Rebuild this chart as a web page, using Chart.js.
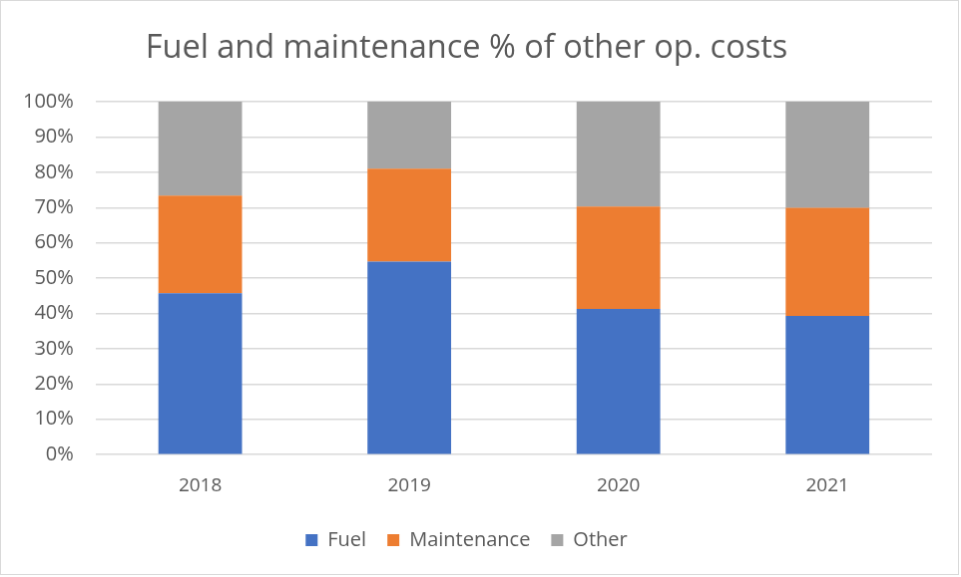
<!DOCTYPE html>
<html>
<head>
<meta charset="utf-8">
<script src="https://cdn.jsdelivr.net/npm/chart.js@4/dist/chart.umd.min.js"></script>
<style>
  body { margin: 0; background: #fff; }
  canvas { display: block; border: 1px solid #d9d9d9; }
</style>
</head>
<body>
<canvas id="chart" width="959" height="575"></canvas>
<script>
const years = ['2018', '2019', '2020', '2021'];
const fuel = [45.7, 54.7, 41.3, 39.3];
const maintenance = [27.7, 26.3, 29.0, 30.6];
const other = [26.6, 19.0, 29.7, 30.1];

const textColor = '#595959';
const fontFamily = '"Open Sans", "Liberation Sans", sans-serif';

const ctx = document.getElementById('chart').getContext('2d');

new Chart(ctx, {
    type: 'bar',
    data: {
        labels: years,
        datasets: [
            { label: 'Fuel', data: fuel, backgroundColor: '#4472c4' },
            { label: 'Maintenance', data: maintenance, backgroundColor: '#ed7d31' },
            { label: 'Other', data: other, backgroundColor: '#a5a5a5' }
        ]
    },
    options: {
        responsive: false,
        animation: false,
        barPercentage: 0.4,
        categoryPercentage: 1,
        layout: { padding: { left: 0, right: 26, top: 0, bottom: 14 } },
        plugins: {
            title: {
                display: true,
                text: 'Fuel and maintenance % of other op. costs',
                color: textColor,
                font: { family: fontFamily, size: 32.5, weight: 'normal' },
                padding: { top: 28, bottom: 34 }
            },
            legend: {
                position: 'bottom',
                labels: {
                    color: textColor,
                    font: { family: fontFamily, size: 20 },
                    boxWidth: 12,
                    boxHeight: 12,
                    padding: 21
                }
            },
            tooltip: { enabled: false }
        },
        scales: {
            x: {
                stacked: true,
                grid: { display: false },
                border: { display: false },
                ticks: { color: textColor, font: { family: fontFamily, size: 19 }, padding: 12 }
            },
            y: {
                stacked: true,
                min: 0,
                max: 100,
                grid: { color: '#d9d9d9', lineWidth: 1.5, drawTicks: false },
                border: { display: false },
                ticks: {
                    stepSize: 10,
                    color: textColor,
                    font: { family: fontFamily, size: 20 },
                    padding: 22,
                    callback: v => v + '%'
                }
            }
        }
    }
});
</script>
</body>
</html>
